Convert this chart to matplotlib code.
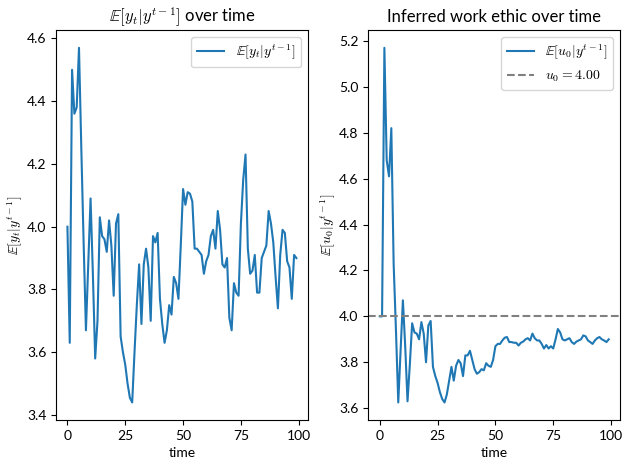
import numpy as np
import matplotlib
matplotlib.use("Agg")
import matplotlib.pyplot as plt

plt.rcParams["mathtext.fontset"] = "cm"
plt.rcParams["font.family"] = ["Lato", "DejaVu Sans"]

# expected outcome E[y_t | y^{t-1}] per period
y_pred = [4.00, 3.63, 4.50, 4.36, 4.38, 4.57, 4.25, 3.95, 3.67, 3.88,
          4.09, 3.85, 3.58, 3.70, 4.03, 3.97, 3.96, 3.92, 4.02, 3.94,
          3.78, 4.01, 4.04, 3.65, 3.60, 3.56, 3.50, 3.455, 3.44, 3.60,
          3.75, 3.88, 3.69, 3.88, 3.93, 3.87, 3.70, 3.97, 3.95, 3.98,
          3.77, 3.69, 3.63, 3.67, 3.75, 3.72, 3.84, 3.82, 3.77, 3.94,
          4.12, 4.07, 4.11, 4.105, 4.08, 3.93, 3.93, 3.92, 3.91, 3.85,
          3.89, 3.91, 3.97, 3.99, 3.93, 4.05, 3.99, 3.88, 3.87, 3.90,
          3.71, 3.67, 3.82, 3.79, 3.78, 4.01, 4.15, 4.23, 3.93, 3.85,
          3.86, 3.91, 3.79, 3.79, 3.90, 3.92, 3.94, 4.05, 4.01, 3.95,
          3.84, 3.74, 3.91, 3.99, 3.98, 3.89, 3.87, 3.77, 3.91, 3.90]

# inferred work ethic E[u_0 | y^{t-1}] per period
u_pred = [4.00, 4.00, 5.17, 4.68, 4.61, 4.82, 4.23, 3.94, 3.625, 3.85,
          4.07, 3.87, 3.63, 3.79, 3.97, 3.93, 3.925, 3.90, 3.975, 3.925,
          3.80, 3.96, 3.98, 3.78, 3.74, 3.71, 3.67, 3.64, 3.625, 3.66,
          3.72, 3.78, 3.72, 3.785, 3.81, 3.795, 3.74, 3.83, 3.83, 3.85,
          3.81, 3.77, 3.75, 3.757, 3.77, 3.765, 3.796, 3.785, 3.78, 3.81,
          3.87, 3.88, 3.88, 3.895, 3.907, 3.91, 3.888, 3.888, 3.885, 3.885,
          3.873, 3.885, 3.89, 3.90, 3.905, 3.895, 3.925, 3.905, 3.895, 3.895,
          3.88, 3.86, 3.875, 3.86, 3.87, 3.86, 3.90, 3.945, 3.93, 3.90,
          3.895, 3.90, 3.905, 3.888, 3.88, 3.89, 3.895, 3.90, 3.917, 3.913,
          3.895, 3.888, 3.88, 3.895, 3.905, 3.91, 3.90, 3.895, 3.888, 3.90]

u0_true = 4.00
t = np.arange(len(y_pred))

fig, (ax1, ax2) = plt.subplots(1, 2, figsize=(6.29, 4.70), dpi=100)

ax1.plot(t, y_pred, label=r"$\mathbb{E}[y_t|y^{t-1}]$")
ax1.set_title(r"$\mathbb{E}[y_t|y^{t-1}]$ over time")
ax1.set_xlabel("time")
ax1.set_ylabel(r"$\mathbb{E}[y_t|y^{t-1}]$", labelpad=1)
ax1.legend()

ax2.plot(t, u_pred, label=r"$\mathbb{E}[u_0|y^{t-1}]$")
ax2.axhline(u0_true, color="gray", linestyle="--", label=r"$u_0 = %.2f$" % u0_true)
ax2.set_title("Inferred work ethic over time")
ax2.set_xlabel("time")
ax2.set_ylabel(r"$\mathbb{E}[u_0|y^{t-1}]$", labelpad=1)
ax2.legend()

for ax in (ax1, ax2):
    ax.set_xticks([0, 25, 50, 75, 100])

# same spacing as tight_layout gave in the original
plt.subplots_adjust(left=0.089, right=0.986, bottom=0.106, top=0.936, wspace=0.24)
plt.savefig("out.png")
